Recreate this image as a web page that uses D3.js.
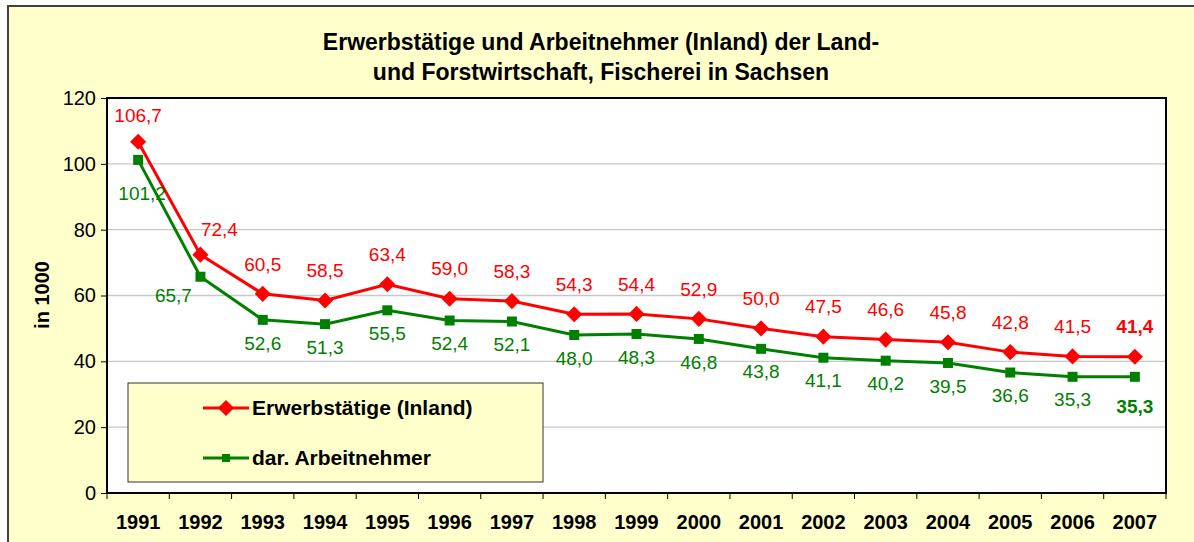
<!DOCTYPE html>
<html lang="de">
<head>
<meta charset="UTF-8">
<title>Erwerbstätige und Arbeitnehmer</title>
<style>
  body { margin: 0; padding: 0; background: #fff; }
  svg text { font-family: "Liberation Sans", Arial, sans-serif; }
  .title { font-size: 23px; font-weight: bold; fill: #000; }
  .ytick { font-size: 20px; }
  .xtick { font-size: 20px; font-weight: bold; }
  .lbl { font-size: 19px; }
</style>
</head>
<body>
<script src="https://cdn.jsdelivr.net/npm/d3@7"></script>
<script>
var years = ['1991','1992','1993','1994','1995','1996','1997','1998','1999','2000','2001','2002','2003','2004','2005','2006','2007'];
var erwerbstaetige = [106.7, 72.4, 60.5, 58.5, 63.4, 59.0, 58.3, 54.3, 54.4, 52.9, 50.0, 47.5, 46.6, 45.8, 42.8, 41.5, 41.4];
var arbeitnehmer = [101.2, 65.7, 52.6, 51.3, 55.5, 52.4, 52.1, 48.0, 48.3, 46.8, 43.8, 41.1, 40.2, 39.5, 36.6, 35.3, 35.3];
var yTicks = [0, 20, 40, 60, 80, 100, 120];

var W = 1194, H = 542;
var plot = { left: 107, top: 98, right: 1166, bottom: 493 };

var svg = d3.select('body').append('svg')
  .attr('width', W).attr('height', H);

// outer chart area
svg.append('rect')
  .attr('x', 8).attr('y', 6).attr('width', W + 10).attr('height', H + 10)
  .attr('fill', '#FFFFCC').attr('stroke', '#404040').attr('stroke-width', 2);

svg.append('text').attr('class', 'title')
  .attr('x', 601).attr('y', 50).attr('text-anchor', 'middle')
  .text('Erwerbstätige und Arbeitnehmer (Inland) der Land-');
svg.append('text').attr('class', 'title')
  .attr('x', 601).attr('y', 80).attr('text-anchor', 'middle')
  .text('und Forstwirtschaft, Fischerei in Sachsen');

var x = d3.scaleBand().domain(years).range([plot.left, plot.right]);
var y = d3.scaleLinear().domain([0, 120]).range([plot.bottom, plot.top]);

// plot area
svg.append('rect')
  .attr('x', plot.left).attr('y', plot.top)
  .attr('width', plot.right - plot.left).attr('height', plot.bottom - plot.top)
  .attr('fill', '#fff');

// grid
svg.selectAll('line.grid').data(yTicks.filter(function(d) { return d > 0 && d < 120; }))
  .enter().append('line')
  .attr('class', 'grid')
  .attr('x1', plot.left).attr('x2', plot.right)
  .attr('y1', function(d) { return y(d); }).attr('y2', function(d) { return y(d); })
  .attr('stroke', '#c8c8c8').attr('stroke-width', 1.3);

// y axis
var yAxis = svg.append('g')
  .attr('transform', 'translate(' + plot.left + ',0)')
  .call(d3.axisLeft(y).tickValues(yTicks).tickSize(6).tickPadding(5).tickFormat(d3.format('d')));
yAxis.select('.domain').remove();
yAxis.selectAll('text').attr('class', 'ytick').attr('fill', '#000');
yAxis.selectAll('line').attr('stroke', '#000');

// x axis ticks at category boundaries
var bounds = years.map(function(d) { return x(d); }).concat([plot.right]);
svg.selectAll('line.xt').data(bounds).enter().append('line')
  .attr('class', 'xt')
  .attr('x1', function(d) { return d; }).attr('x2', function(d) { return d; })
  .attr('y1', plot.bottom).attr('y2', plot.bottom + 6)
  .attr('stroke', '#000').attr('stroke-width', 1);
svg.selectAll('text.xtick').data(years).enter().append('text')
  .attr('class', 'xtick')
  .attr('x', function(d) { return x(d) + x.bandwidth() / 2; })
  .attr('y', 529)
  .attr('text-anchor', 'middle')
  .text(function(d) { return d; });

// plot border
svg.append('rect')
  .attr('x', plot.left).attr('y', plot.top)
  .attr('width', plot.right - plot.left).attr('height', plot.bottom - plot.top)
  .attr('fill', 'none').attr('stroke', '#000').attr('stroke-width', 2);

// y title
svg.append('text')
  .attr('transform', 'translate(49,295) rotate(-90)')
  .attr('text-anchor', 'middle')
  .attr('font-size', 20).attr('font-weight', 'bold')
  .text('in 1000');

var cx = function(d, i) { return x(years[i]) + x.bandwidth() / 2; };
var line = d3.line().x(cx).y(function(d) { return y(d); });
var fmt = function(v) { return d3.format('.1f')(v).replace('.', ','); };

// lines
svg.append('path').datum(arbeitnehmer).attr('d', line)
  .attr('fill', 'none').attr('stroke', '#008000').attr('stroke-width', 3);
svg.append('path').datum(erwerbstaetige).attr('d', line)
  .attr('fill', 'none').attr('stroke', '#FF0000').attr('stroke-width', 3);

// markers
svg.selectAll('rect.sq').data(arbeitnehmer).enter().append('rect')
  .attr('class', 'sq')
  .attr('x', function(d, i) { return cx(d, i) - 5; })
  .attr('y', function(d) { return y(d) - 5; })
  .attr('width', 10).attr('height', 10)
  .attr('fill', '#008000');
var diamond = d3.symbol().type(d3.symbolSquare).size(130);
svg.selectAll('path.dia').data(erwerbstaetige).enter().append('path')
  .attr('class', 'dia')
  .attr('d', diamond)
  .attr('transform', function(d, i) { return 'translate(' + cx(d, i) + ',' + y(d) + ') rotate(45)'; })
  .attr('fill', '#FF0000');

// labels
var last = years.length - 1;
var redOff = function(i) { return i === 0 ? [0, -26] : i === 1 ? [19, -25] : [0, -30]; };
var greenOff = function(i) { return i === 0 ? [4, 33] : i === 1 ? [-27, 19] : i === last ? [0, 30] : [0, 23]; };

svg.selectAll('text.rl').data(erwerbstaetige).enter().append('text')
  .attr('class', 'lbl')
  .attr('x', function(d, i) { return cx(d, i) + redOff(i)[0]; })
  .attr('y', function(d, i) { return y(d) + redOff(i)[1]; })
  .attr('dy', '0.35em')
  .attr('text-anchor', 'middle')
  .attr('fill', '#FF0000')
  .attr('font-weight', function(d, i) { return i === last ? 'bold' : 'normal'; })
  .text(fmt);

svg.selectAll('text.gl').data(arbeitnehmer).enter().append('text')
  .attr('class', 'lbl')
  .attr('x', function(d, i) { return cx(d, i) + greenOff(i)[0]; })
  .attr('y', function(d, i) { return y(d) + greenOff(i)[1]; })
  .attr('dy', '0.35em')
  .attr('text-anchor', 'middle')
  .attr('fill', '#008000')
  .attr('font-weight', function(d, i) { return i === last ? 'bold' : 'normal'; })
  .text(fmt);

// legend
var legend = svg.append('g');
legend.append('rect')
  .attr('x', 128).attr('y', 383).attr('width', 415).attr('height', 99)
  .attr('fill', '#FFFFCC').attr('stroke', '#333').attr('stroke-width', 1);
var items = [
  { name: 'Erwerbstätige (Inland)', color: '#FF0000', mark: 'dia', y: 408 },
  { name: 'dar. Arbeitnehmer', color: '#008000', mark: 'sq', y: 458 }
];
items.forEach(function(it) {
  legend.append('line')
    .attr('x1', 203).attr('x2', 249).attr('y1', it.y).attr('y2', it.y)
    .attr('stroke', it.color).attr('stroke-width', 3);
  if (it.mark === 'dia') {
    legend.append('path').attr('d', diamond)
      .attr('transform', 'translate(226,' + it.y + ') rotate(45)')
      .attr('fill', it.color);
  } else {
    legend.append('rect').attr('x', 222).attr('y', it.y - 4)
      .attr('width', 8).attr('height', 8).attr('fill', it.color);
  }
  legend.append('text')
    .attr('x', 252).attr('y', it.y).attr('dy', '0.35em')
    .attr('font-size', 21).attr('font-weight', 'bold')
    .text(it.name);
});
</script>
</body>
</html>
